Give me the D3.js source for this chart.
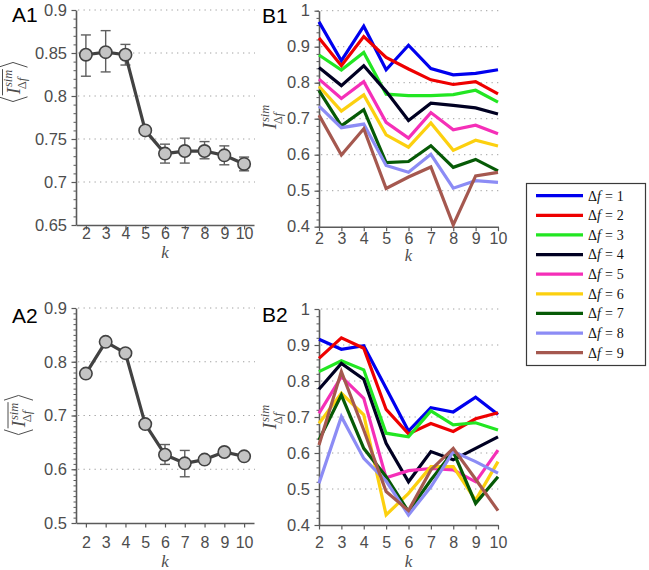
<!DOCTYPE html>
<html><head><meta charset="utf-8">
<script src="https://cdn.jsdelivr.net/npm/d3@7"></script>
<style>body{margin:0;background:#fff}svg{display:block}</style>
</head><body>
<svg id="c" width="649" height="570"></svg>
<script>
// ---------------- data ----------------
const kValues = [2, 3, 4, 5, 6, 7, 8, 9, 10];

const a1Mean  = [0.848, 0.851, 0.848, 0.760, 0.733, 0.736, 0.736, 0.731, 0.721];
const a1Lower = [0.823, 0.828, 0.836, 0.757, 0.722, 0.722, 0.727, 0.720, 0.713];
const a1Upper = [0.871, 0.876, 0.860, 0.763, 0.744, 0.751, 0.747, 0.742, 0.729];

const a2Mean  = [0.778, 0.837, 0.816, 0.684, 0.627, 0.611, 0.618, 0.632, 0.624];
const a2Lower = [0.778, 0.837, 0.816, 0.677, 0.609, 0.586, 0.618, 0.627, 0.619];
const a2Upper = [0.778, 0.837, 0.816, 0.691, 0.646, 0.635, 0.618, 0.637, 0.629];

const deltaF = [1, 2, 3, 4, 5, 6, 7, 8, 9];
const seriesColors = ["#0000ee", "#ee0000", "#22e622", "#000022", "#f52fb8",
                      "#fcd00f", "#065a06", "#8c8cf5", "#a5584f"];

const b1Df1 = [0.969, 0.861, 0.957, 0.836, 0.904, 0.839, 0.822, 0.826, 0.836];
const b1Df2 = [0.924, 0.847, 0.928, 0.870, 0.838, 0.808, 0.795, 0.803, 0.769];
const b1Df3 = [0.877, 0.835, 0.884, 0.768, 0.764, 0.764, 0.767, 0.779, 0.746];
const b1Df4 = [0.842, 0.792, 0.847, 0.776, 0.695, 0.743, 0.737, 0.730, 0.713];
const b1Df5 = [0.810, 0.756, 0.803, 0.690, 0.646, 0.717, 0.669, 0.682, 0.658];
const b1Df6 = [0.790, 0.721, 0.766, 0.655, 0.621, 0.688, 0.612, 0.640, 0.624];
const b1Df7 = [0.778, 0.680, 0.725, 0.578, 0.581, 0.625, 0.565, 0.587, 0.555];
const b1Df8 = [0.735, 0.675, 0.685, 0.570, 0.551, 0.601, 0.507, 0.528, 0.523];
const b1Df9 = [0.710, 0.599, 0.672, 0.506, 0.538, 0.566, 0.405, 0.541, 0.551];

const b2Df1 = [0.916, 0.888, 0.898, 0.780, 0.661, 0.726, 0.714, 0.755, 0.707];
const b2Df2 = [0.863, 0.920, 0.891, 0.721, 0.653, 0.682, 0.660, 0.695, 0.712];
const b2Df3 = [0.826, 0.856, 0.831, 0.655, 0.645, 0.717, 0.678, 0.684, 0.664];
const b2Df4 = [0.777, 0.849, 0.805, 0.627, 0.520, 0.604, 0.581, 0.613, 0.645];
const b2Df5 = [0.710, 0.812, 0.752, 0.531, 0.551, 0.557, 0.553, 0.520, 0.608];
const b2Df6 = [0.682, 0.766, 0.706, 0.428, 0.488, 0.562, 0.562, 0.469, 0.576];
const b2Df7 = [0.636, 0.761, 0.613, 0.534, 0.437, 0.525, 0.604, 0.460, 0.534];
const b2Df8 = [0.516, 0.701, 0.585, 0.522, 0.428, 0.506, 0.604, 0.576, 0.544];
const b2Df9 = [0.622, 0.826, 0.664, 0.493, 0.440, 0.553, 0.613, 0.527, 0.440];

const b1Series = [b1Df1, b1Df2, b1Df3, b1Df4, b1Df5, b1Df6, b1Df7, b1Df8, b1Df9];
const b2Series = [b2Df1, b2Df2, b2Df3, b2Df4, b2Df5, b2Df6, b2Df7, b2Df8, b2Df9];

const a1YTicks = [0.65, 0.7, 0.75, 0.8, 0.85, 0.9];
const a2YTicks = [0.5, 0.6, 0.7, 0.8, 0.9];
const bYTicks  = [0.4, 0.5, 0.6, 0.7, 0.8, 0.9, 1];

// ---------------- drawing ----------------
const svg = d3.select("#c");
const SANS = "'Liberation Sans', Arial, Helvetica, sans-serif";
const SERIF = "'Liberation Serif', 'Times New Roman', serif";
const AX = "#5a5a5a", TXT = "#4d4d4d";
const fmt = v => String(+v.toFixed(2));

function range(a, b, step) {
  const out = []; const n = Math.round((b - a) / step);
  for (let i = 0; i <= n; i++) out.push(+(a + i * step).toFixed(4));
  return out;
}

function drawFrame(p) {
  const x = d3.scaleLinear().domain(p.xDomain).range([p.left, p.right]);
  const y = d3.scaleLinear().domain(p.yDomain).range([p.bottom, p.top]);
  const g = svg.append("g");
  g.selectAll("line.grid").data(p.yTicks.filter(d => d !== p.yDomain[0])).join("line")
    .attr("class", "grid")
    .attr("x1", p.left + 2).attr("x2", p.right + 1)
    .attr("y1", d => y(d)).attr("y2", d => y(d))
    .attr("stroke", "#a0a0a0").attr("stroke-width", 1).attr("stroke-dasharray", "1.3,4.2");
  const minor = svg.append("g").attr("transform", `translate(${p.left},0)`)
    .call(d3.axisLeft(y).tickValues(range(p.yDomain[0], p.yDomain[1], p.minor)).tickSize(2.5).tickSizeOuter(0).tickFormat(""));
  minor.select(".domain").remove();
  minor.selectAll("line").attr("stroke", AX).attr("stroke-width", 1);
  const ya = svg.append("g").attr("transform", `translate(${p.left},0)`)
    .call(d3.axisLeft(y).tickValues(p.yTicks).tickSize(4.5).tickPadding(4.5).tickSizeOuter(0).tickFormat(fmt));
  ya.select(".domain").attr("stroke", AX).attr("stroke-width", 1.6);
  ya.selectAll("line").attr("stroke", AX).attr("stroke-width", 1.2);
  ya.selectAll("text").attr("font-family", SANS).attr("font-size", 16.5).attr("fill", TXT);
  const xa = svg.append("g").attr("transform", `translate(0,${p.bottom})`)
    .call(d3.axisBottom(x).tickValues(kValues).tickSize(4.5).tickSizeOuter(0).tickFormat(d3.format("d")));
  xa.select(".domain").attr("stroke", AX).attr("stroke-width", 1.6);
  xa.selectAll("line").attr("stroke", AX).attr("stroke-width", 1.2);
  xa.selectAll("text").attr("font-family", SANS).attr("font-size", 16).attr("fill", TXT)
    .attr("y", p.tickBase - p.bottom).attr("dy", 0);
  svg.append("text").attr("x", (p.left + p.right) / 2).attr("y", p.kBase)
    .attr("text-anchor", "middle").attr("font-family", SERIF).attr("font-style", "italic")
    .attr("font-size", p.kSize || 17).attr("fill", TXT).text("k");
  svg.append("text").attr("x", p.tagX).attr("y", p.tagY)
    .attr("font-family", SANS).attr("font-size", 21).attr("fill", "#000").text(p.tag);
  return {x, y};
}

function ylabelMath(cx, cy, fancy) {
  const outer = svg.append("g").attr("fill", TXT).attr("font-family", SERIF);
  const g = outer.append("g");
  const x0 = fancy ? 8 : 0;
  const I = g.append("text").attr("x", x0).attr("y", 0).attr("font-size", 19.5)
    .attr("font-style", "italic").text("I");
  const iw = I.node().getComputedTextLength();
  const supX = x0 + iw + 0.8;
  const sup = g.append("text").attr("x", supX).attr("y", -7.5).attr("font-size", 12.5)
    .attr("font-style", "italic").text("sim");
  const sub = g.append("text").attr("x", supX - 2.2).attr("y", 6).attr("font-size", 12.5);
  sub.append("tspan").text("Δ");
  sub.append("tspan").attr("font-style", "italic").text("f");
  const end = Math.max(supX + sup.node().getComputedTextLength(),
                       supX - 2.2 + sub.node().getComputedTextLength());
  let W = end;
  if (fancy) {
    g.append("line").attr("x1", x0 - 1).attr("x2", end + 0.5).attr("y1", -17).attr("y2", -17)
      .attr("stroke", TXT).attr("stroke-width", 1);
    g.append("path").attr("d", `M5.5,-21 L0.8,-6.5 L5.5,8`).attr("fill", "none")
      .attr("stroke", TXT).attr("stroke-width", 1);
    g.append("path").attr("d", `M${end + 2.5},-21 L${end + 7.2},-6.5 L${end + 2.5},8`).attr("fill", "none")
      .attr("stroke", TXT).attr("stroke-width", 1);
    W = end + 8;
  }
  outer.attr("transform", `translate(${cx},${cy}) rotate(-90) translate(${-W / 2},0)`);
}

function drawA(p, mean, lower, upper) {
  const {x, y} = drawFrame(p);
  const pts = kValues.map((k, i) => ({k, m: mean[i], lo: lower[i], hi: upper[i]}));
  const eb = svg.append("g").attr("stroke", "#5f5f5f").attr("stroke-width", 1.4).attr("fill", "none");
  pts.filter(d => d.hi - d.lo > 0.0005).forEach(d => {
    eb.append("line").attr("x1", x(d.k)).attr("x2", x(d.k)).attr("y1", y(d.lo)).attr("y2", y(d.hi));
    eb.append("line").attr("x1", x(d.k) - 5).attr("x2", x(d.k) + 5).attr("y1", y(d.lo)).attr("y2", y(d.lo));
    eb.append("line").attr("x1", x(d.k) - 5).attr("x2", x(d.k) + 5).attr("y1", y(d.hi)).attr("y2", y(d.hi));
  });
  svg.append("path").datum(pts)
    .attr("d", d3.line().x(d => x(d.k)).y(d => y(d.m)))
    .attr("fill", "none").attr("stroke", "#424242").attr("stroke-width", 3.2).attr("stroke-linejoin", "round");
  svg.append("g").selectAll("circle").data(pts).join("circle")
    .attr("cx", d => x(d.k)).attr("cy", d => y(d.m)).attr("r", 6.2)
    .attr("fill", "#c4c4c4").attr("stroke", "#424242").attr("stroke-width", 1.6);
}

function drawB(p, series) {
  const {x, y} = drawFrame(p);
  const line = d3.line().x((d, i) => x(kValues[i])).y(d => y(d));
  svg.append("g").selectAll("path").data(series).join("path")
    .attr("d", d => line(d)).attr("fill", "none")
    .attr("stroke", (d, i) => seriesColors[i]).attr("stroke-width", 3.2)
    .attr("stroke-linejoin", "miter").attr("stroke-miterlimit", 4);
}

drawA({left: 76, right: 254, top: 10, bottom: 225, xDomain: [1.5, 10.5], yDomain: [0.65, 0.9],
       yTicks: a1YTicks, minor: 0.01, tickBase: 239, kBase: 258, tag: "A1", tagX: 12, tagY: 22},
      a1Mean, a1Lower, a1Upper);
drawA({left: 76, right: 254, top: 308, bottom: 523, xDomain: [1.5, 10.5], yDomain: [0.5, 0.9],
       yTicks: a2YTicks, minor: 0.01, tickBase: 548, kBase: 567, tag: "A2", tagX: 12, tagY: 323},
      a2Mean, a2Lower, a2Upper);
drawB({left: 319, right: 498, top: 10.7, bottom: 226.7, xDomain: [2, 10], yDomain: [0.4, 1],
       yTicks: bYTicks, minor: 0.02, tickBase: 244, kBase: 261, kSize: 16.5, tag: "B1", tagX: 262, tagY: 23},
      b1Series);
drawB({left: 319, right: 498, top: 309, bottom: 525, xDomain: [2, 10], yDomain: [0.4, 1],
       yTicks: bYTicks, minor: 0.02, tickBase: 548, kBase: 567, tag: "B2", tagX: 262, tagY: 322},
      b2Series);

ylabelMath(19.5, 82, true);
ylabelMath(25, 415, true);
ylabelMath(276, 117, false);
ylabelMath(276, 417, false);

// legend
const lg = svg.append("g");
lg.append("rect").attr("x", 526.5).attr("y", 183.5).attr("width", 119).attr("height", 182)
  .attr("fill", "#fff").attr("stroke", "#3a3a3a").attr("stroke-width", 1.2);
const ly = d3.scaleLinear().domain([0, 8]).range([195.7, 352.7]);
deltaF.forEach((df, i) => {
  lg.append("line").attr("x1", 536).attr("x2", 583).attr("y1", ly(i)).attr("y2", ly(i))
    .attr("stroke", seriesColors[i]).attr("stroke-width", 3.2);
  const t = lg.append("text").attr("x", 588).attr("y", ly(i) + 4.8)
    .attr("font-family", SERIF).attr("font-size", 14).attr("fill", "#111");
  t.append("tspan").text("Δ");
  t.append("tspan").attr("font-style", "italic").text("f");
  t.append("tspan").attr("dx", 4).text("=");
  t.append("tspan").attr("dx", 4).text(df);
});
</script>
</body></html>
